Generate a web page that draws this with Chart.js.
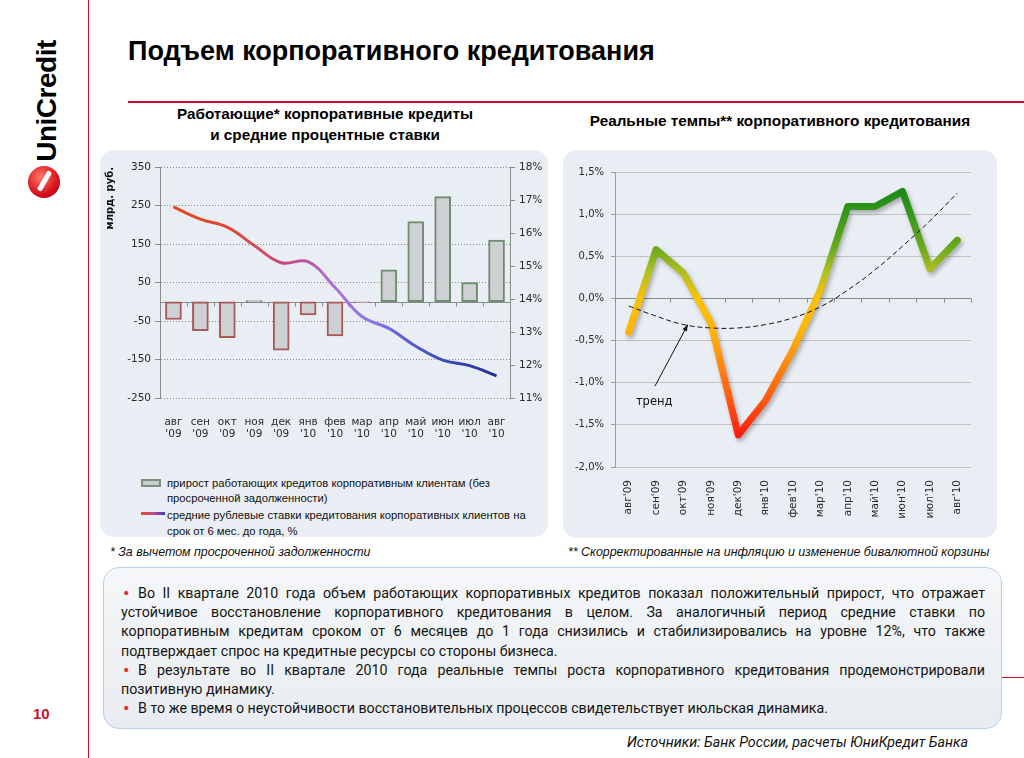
<!DOCTYPE html>
<html><head><meta charset="utf-8">
<script src="https://cdn.jsdelivr.net/npm/chart.js@4.4.1/dist/chart.umd.min.js"></script>
<style>
*{box-sizing:border-box}
html,body{margin:0;padding:0;background:#fff}
body{width:1024px;height:758px;position:relative;overflow:hidden;font-family:"Liberation Sans",Arial,sans-serif;color:#000}
.a{position:absolute}
#vline{left:88px;top:0;width:1px;height:758px;background:#c8102e}
#hline{left:128px;top:101px;width:896px;height:2px;background:#c8102e}
#hline2{left:1002px;top:677px;width:22px;height:1px;background:#c8102e}
#title{left:128px;top:38px;font-weight:bold;font-size:27px;line-height:27px;white-space:nowrap}
#logo{left:-18px;top:86px;width:130px;height:30px;transform:rotate(-90deg);font-weight:bold;font-size:28px;line-height:30px;letter-spacing:-0.5px;text-align:center;white-space:nowrap}
#dot{left:28px;top:166px;width:32px;height:32px;border-radius:50%;background:radial-gradient(circle at 40% 35%,#ff7a6a,#d8101a 60%,#8a0010);overflow:hidden}
#dot1{left:14px;top:4px;width:5px;height:22px;background:#fff;transform:rotate(30deg);border-radius:2px}
.panel{background:#e9eef4;border-radius:14px}
#p1{left:100px;top:150px;width:448px;height:387px}
#p2{left:563px;top:150px;width:434px;height:388px}
.sub{font-weight:bold;font-size:15.3px;text-align:center;line-height:21px;white-space:nowrap}
#s1{left:150px;top:103px;width:350px}
#s2{left:563px;top:110px;width:434px}
#c1{left:100px;top:150px}
#c2{left:563px;top:150px}
.lg{left:167px;font-size:11.25px;line-height:16px;white-space:nowrap;color:#111}
#lgbar{left:141px;top:479px;width:20px;height:8px;background:#c9cdd0;border:2px solid #7d8e7d}
#lgline{left:141px;top:512px;width:24px;height:3px;background:linear-gradient(90deg,#e84a1a,#c04a90 50%,#3040c0)}
.fn{font-style:italic;font-size:12.4px;line-height:16px;white-space:nowrap;color:#111}
#box{left:103px;top:567px;width:899px;height:162px;border:1px solid #b9cfe6;border-radius:16px;background:linear-gradient(#f5f7f9,#e8ecf0);padding:16px 16px 0 17px;font-family:Roboto,"Noto Sans",sans-serif;font-size:15px;line-height:19.2px;color:#141414}
.j{text-align:justify;text-align-last:justify}
.l{text-align:left;white-space:nowrap}
.bu{color:#e03038;display:inline-block;width:1.2em;padding-left:1px;font-family:"DejaVu Sans",sans-serif;line-height:10px}
#last{display:inline-block}
#src{left:627px;top:733px;font-family:Roboto,"Noto Sans",sans-serif;font-style:italic;font-size:14px;line-height:18px;white-space:nowrap;color:#111;transform-origin:0 50%}
#pg{left:33px;top:704px;font-weight:bold;font-size:15px;line-height:20px;color:#c8102e}
</style></head><body>
<div class="a" id="vline"></div>
<div class="a" id="hline"></div>
<div class="a" id="hline2"></div>
<div class="a" id="title">Подъем корпоративного кредитования</div>
<div class="a" id="logo">UniCredit</div>
<div class="a" id="dot"><div class="a" id="dot1"></div></div>
<div class="a panel" id="p1"></div>
<div class="a panel" id="p2"></div>
<div class="a sub" id="s1">Работающие* корпоративные кредиты<br>и средние процентные ставки</div>
<div class="a sub" id="s2">Реальные темпы** корпоративного кредитования</div>
<canvas class="a" id="c1" width="448" height="300"></canvas>
<canvas class="a" id="c2" width="434" height="388"></canvas>
<div class="a" id="lgbar"></div>
<div class="a lg" style="top:475px">прирост работающих  кредитов корпоративным клиентам (без</div>
<div class="a lg" style="top:490px">просроченной задолженности)</div>
<div class="a" id="lgline"></div>
<div class="a lg" style="top:507px">средние рублевые ставки кредитования  корпоративных  клиентов на</div>
<div class="a lg" style="top:523px">срок от 6 мес. до года, %</div>
<div class="a fn" style="left:110px;top:544px">* За вычетом просроченной задолженности</div>
<div class="a fn" style="left:568px;top:544px">** Скорректированные на инфляцию и изменение бивалютной корзины</div>
<div class="a" id="box">
<div class="j"><span class="bu">•</span>Во II квартале 2010 года объем работающих корпоративных кредитов показал положительный прирост, что отражает</div>
<div class="j">устойчивое восстановление корпоративного кредитования в целом. За аналогичный период средние ставки по</div>
<div class="j">корпоративным кредитам сроком от 6 месяцев до 1 года снизились и стабилизировались на уровне 12%, что также</div>
<div class="l">подтверждает спрос на кредитные ресурсы со стороны бизнеса.</div>
<div class="j"><span class="bu">•</span>В результате во II квартале 2010 года реальные темпы роста корпоративного кредитования продемонстрировали</div>
<div class="l">позитивную динамику.</div>
<div class="l"><span id="last"><span class="bu">•</span>В то же время о неустойчивости восстановительных процессов свидетельствует июльская динамика.</span></div>
</div>
<div class="a" id="src">Источники: Банк России, расчеты  ЮниКредит Банка</div>
<div class="a" id="pg">10</div>
<script>
// ---- fit the substitute font to the original text widths ----
(function(){
  const box = document.getElementById('box'), last = document.getElementById('last');
  const w = last.getBoundingClientRect().width;
  box.style.fontSize = (15*707/w).toFixed(2)+'px';
  const src = document.getElementById('src');
  const ws = src.getBoundingClientRect().width;
  src.style.fontSize = (14*341/ws).toFixed(2)+'px';
})();

// ---- data ----
const monthNames = ["авг","сен","окт","ноя","дек","янв","фев","мар","апр","май","июн","июл","авг"];
const yearNames  = ["'09","'09","'09","'09","'09","'10","'10","'10","'10","'10","'10","'10","'10"];
const loanGrowth = [-46,-75,-93,3,-126,-34,-89,-2,83,208,273,50,160];           // млрд. руб.
const avgRate    = [16.79,16.42,16.18,15.62,15.10,15.13,14.35,13.47,13.11,12.57,12.15,11.98,11.67]; // %
const realGrowth = [-0.40,0.58,0.30,-0.29,-1.62,-1.21,-0.61,0.10,1.09,1.09,1.27,0.35,0.69]; // %
const trendLine  = [-0.09,-0.21,-0.31,-0.35,-0.35,-0.31,-0.23,-0.10,0.10,0.34,0.62,0.92,1.25]; // %
const leftTicks  = {min:-250,max:350,step:100};
const rightTicks = {min:11,max:18,step:1};
const realTicks  = {min:-2,max:1.5,step:0.5};

const leftLabels = monthNames.map((m,i)=>[m,yearNames[i]]);
const rightLabels = monthNames.map((m,i)=>m+yearNames[i]);

Chart.defaults.font.family = "'DejaVu Sans', Verdana, sans-serif";
Chart.defaults.color = '#2a2a2a';

const zeroLine = {
  id:'zeroLine',
  beforeDatasetsDraw(chart, args, opts){
    const y = chart.scales[opts.axis||'y'], x = chart.scales.x, a = chart.chartArea, c = chart.ctx;
    const py = Math.round(y.getPixelForValue(0))+0.5;
    c.save(); c.strokeStyle = opts.color||'#888'; c.lineWidth = 1; c.beginPath();
    c.moveTo(a.left,py); c.lineTo(a.right,py);
    for(let i=0;i<=chart.data.labels.length;i++){
      const px = Math.round(x.getPixelForValue(i-0.5))+0.5;
      c.moveTo(px,py); c.lineTo(px,py+4);
    }
    c.stroke(); c.restore();
  }
};

// ---- left chart ----
function rateGradient(ctx){
  const chart = ctx.chart, a = chart.chartArea;
  if(!a) return '#e04a20';
  const g = chart.ctx.createLinearGradient(a.left,0,a.right,0);
  g.addColorStop(0,'#ea4416');
  g.addColorStop(0.22,'#dc4a40');
  g.addColorStop(0.38,'#c44a88');
  g.addColorStop(0.5,'#b070d8');
  g.addColorStop(0.6,'#8a78e4');
  g.addColorStop(0.75,'#4a54cc');
  g.addColorStop(1,'#1a2888');
  return g;
}
new Chart(document.getElementById('c1'),{
  data:{labels:leftLabels,datasets:[
    {type:'line',data:avgRate,yAxisID:'y1',borderColor:rateGradient,borderWidth:3,tension:0.4,pointRadius:0,fill:false},
    {type:'bar',data:loanGrowth,yAxisID:'y',backgroundColor:'#cdd1d4',
     borderColor:c=>c.raw<0?'#a85a5a':'#6f8c6f',borderWidth:2,barThickness:16,borderSkipped:false}
  ]},
  options:{responsive:false,animation:false,devicePixelRatio:1,
    layout:{padding:{top:17,left:0,right:0,bottom:0}},
    plugins:{legend:{display:false},tooltip:{enabled:false},zeroLine:{axis:'y',color:'#8a8a8a'}},
    scales:{
      x:{grid:{display:false},border:{display:false},
         ticks:{padding:10,autoSkip:false,maxRotation:0,font:{size:10.5,lineHeight:1.15}},
         afterFit(s){s.height=52;}},
      y:{position:'left',min:leftTicks.min,max:leftTicks.max,
         ticks:{stepSize:leftTicks.step,padding:4,font:{size:10.5}},
         grid:{color:'#8c8c8c',tickColor:'#8c8c8c',tickLength:5},
         border:{color:'#8c8c8c',dash:[1,2]},
         title:{display:true,text:'млрд. руб.',align:'end',font:{weight:'bold',size:10},color:'#111',padding:{top:4,bottom:0}},
         afterFit(s){s.width=60;}},
      y1:{position:'right',min:rightTicks.min,max:rightTicks.max,
         ticks:{stepSize:rightTicks.step,padding:4,font:{size:10.5},callback:v=>v+'%'},
         grid:{drawOnChartArea:false,color:'#8c8c8c',tickLength:5},
         border:{color:'#8c8c8c'},
         afterFit(s){s.width=38;}}
    }},
  plugins:[zeroLine]
});

// ---- right chart ----
function realGradient(ctx){
  const chart = ctx.chart, y = chart.scales.y;
  if(!chart.chartArea || !y) return '#80b020';
  const top = y.getPixelForValue(1.3), bot = y.getPixelForValue(-1.65);
  const g = chart.ctx.createLinearGradient(0,top,0,bot);
  const stops = [[1.3,'#188a18'],[1.0,'#36981a'],[0.6,'#6aaa1c'],[0.3,'#b4c020'],[0.0,'#fcc204'],[-0.4,'#ffb404'],[-0.7,'#ff9010'],[-1.2,'#ff5a10'],[-1.65,'#ff1a10']];
  stops.forEach(([v,c])=>g.addColorStop((1.3-v)/2.95,c));
  return g;
}
const shadow = {
  id:'shadow',
  beforeDatasetDraw(chart,args){ if(args.index===1){const c=chart.ctx;c.save();c.shadowColor='rgba(0,0,0,0.28)';c.shadowBlur=4;c.shadowOffsetX=2;c.shadowOffsetY=3;} },
  afterDatasetDraw(chart,args){ if(args.index===1){chart.ctx.restore();} }
};
const trendNote = {
  id:'trendNote',
  afterDatasetsDraw(chart){
    const x = chart.scales.x, y = chart.scales.y, c = chart.ctx;
    const x0 = x.getPixelForValue(0.96), y0 = y.getPixelForValue(-1.04);
    const x1 = x.getPixelForValue(2.16), y1 = y.getPixelForValue(-0.31);
    c.save(); c.strokeStyle='#111'; c.fillStyle='#111'; c.lineWidth=1;
    c.beginPath(); c.moveTo(x0,y0); c.lineTo(x1,y1); c.stroke();
    const ang = Math.atan2(y1-y0,x1-x0), L=7, W=0.35;
    c.beginPath(); c.moveTo(x1,y1);
    c.lineTo(x1-L*Math.cos(ang-W),y1-L*Math.sin(ang-W));
    c.lineTo(x1-L*Math.cos(ang+W),y1-L*Math.sin(ang+W));
    c.closePath(); c.fill();
    c.font="11.5px 'DejaVu Sans'"; c.textAlign='center'; c.textBaseline='middle';
    c.fillText('тренд', x.getPixelForValue(0.93), y.getPixelForValue(-1.23));
    c.restore();
  }
};
new Chart(document.getElementById('c2'),{
  type:'line',
  data:{labels:rightLabels,datasets:[
    {data:trendLine,borderColor:'#111',borderWidth:1,borderDash:[5,3],tension:0.4,pointRadius:0,fill:false},
    {data:realGrowth,borderColor:realGradient,borderWidth:7,tension:0,pointRadius:0,fill:false,borderJoinStyle:'round',borderCapStyle:'round'}
  ]},
  options:{responsive:false,animation:false,devicePixelRatio:1,
    layout:{padding:{top:22,right:26,left:0,bottom:0}},
    plugins:{legend:{display:false},tooltip:{enabled:false},zeroLine:{axis:'y',color:'#8a8a8a'}},
    scales:{
      x:{offset:true,grid:{display:false},border:{display:false},
         ticks:{minRotation:90,maxRotation:90,padding:5,autoSkip:false,font:{size:10.5}},
         afterFit(s){s.height=71;}},
      y:{min:realTicks.min,max:realTicks.max,
         ticks:{stepSize:realTicks.step,padding:7,font:{size:10},callback:v=>v.toFixed(1).replace('.',',')+'%'},
         grid:{color:'#c2c2c2',tickColor:'#a0a0a0',tickLength:4},
         border:{color:'#9a9a9a'},
         afterFit(s){s.width=52;}}
    }},
  plugins:[zeroLine,shadow,trendNote]
});
</script>
</body></html>
